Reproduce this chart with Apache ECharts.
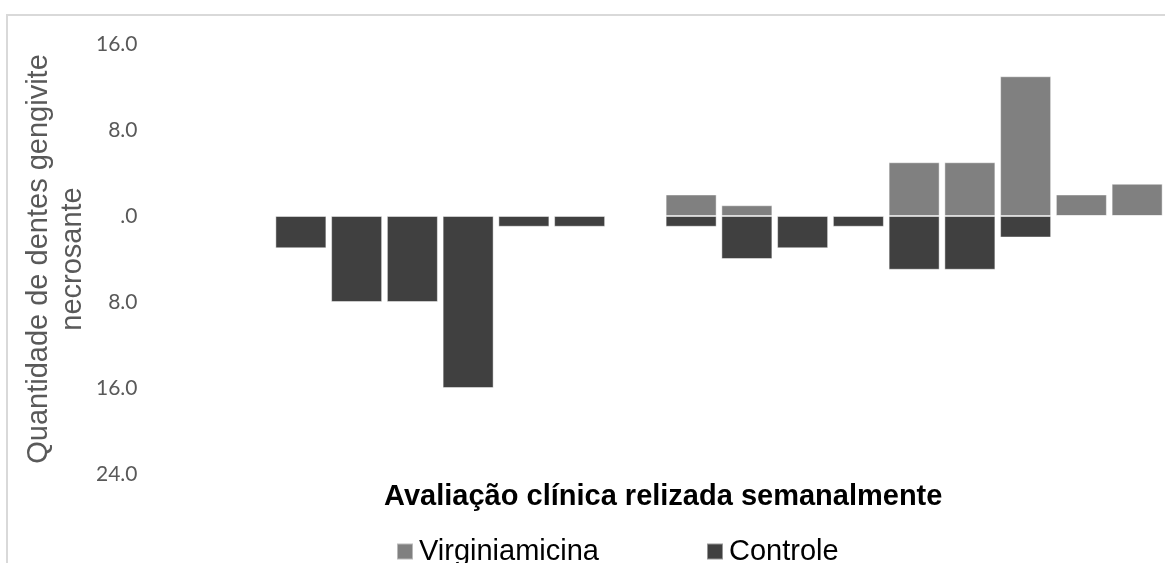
<!DOCTYPE html>
<html>
<head>
<meta charset="utf-8">
<script src="https://cdn.jsdelivr.net/npm/echarts@6/dist/echarts.min.js"></script>
<style>
  html, body { margin: 0; padding: 0; background: #ffffff; }
  #chart { width: 1165px; height: 563px; }
</style>
</head>
<body>
<div id="chart"></div>
<script>
// Weekly clinical evaluations (one slot per week)
const weeks = ['1','2','3','4','5','6','7','8','9','10','11','12','13','14','15','16','17','18'];
// Teeth with necrotizing gingivitis per week
const virginiamicina = [0, 0, 0, 0, 0, 0, 0, 0, 0, 2, 1, 0, 0, 5, 5, 13, 2, 3];
const controle       = [0, 0, 3, 8, 8, 16, 1, 1, 0, 1, 4, 3, 1, 5, 5, 2, 0, 0];
// Value axis: Virginiamicina grows upward, Controle downward
const yMin = -24, yMax = 16, yStep = 8;

const chart = echarts.init(document.getElementById('chart'));

const barBorder = { borderColor: 'rgba(255,255,255,0.45)', borderWidth: 1 };

chart.setOption({
  animation: false,
  backgroundColor: '#ffffff',
  graphic: [{
    type: 'rect',
    shape: { x: 7, y: 15, width: 1300, height: 700 },
    style: { fill: 'none', stroke: '#d9d9d9', lineWidth: 2 },
    silent: true
  }],
  legend: {
    left: 396,
    top: 537,
    padding: 0,
    itemWidth: 16,
    itemHeight: 16,
    itemGap: 107,
    icon: 'rect',
    textStyle: { fontFamily: 'Liberation Sans', fontSize: 29, color: '#000000', padding: [0, 0, 0, 1] },
    data: ['Virginiamicina', 'Controle']
  },
  grid: { left: 161.5, top: 44, width: 1008, height: 430, containLabel: false },
  xAxis: {
    type: 'category',
    data: weeks,
    axisLine: { show: false, onZero: false },
    axisTick: { show: false },
    axisLabel: { show: false },
    name: 'Avaliação clínica relizada semanalmente',
    nameLocation: 'middle',
    nameGap: 23,
    nameMoveOverlap: false,
    nameTextStyle: {
      fontFamily: 'Liberation Sans', fontSize: 29, fontWeight: 'bold',
      color: '#000000', verticalAlign: 'middle'
    }
  },
  yAxis: {
    type: 'value',
    min: yMin,
    max: yMax,
    interval: yStep,
    splitLine: { show: false },
    axisLine: { show: false },
    axisTick: { show: false },
    axisLabel: {
      margin: 24,
      fontFamily: 'Lato',
      fontSize: 21,
      color: '#595959',
      formatter: v => {
        const s = Math.abs(v).toFixed(1);
        return s.startsWith('0') ? s.slice(1) : s;
      }
    },
    name: 'Quantidade de dentes gengivite\nnecrosante',
    nameLocation: 'middle',
    nameRotate: 90,
    nameGap: 106,
    nameMoveOverlap: false,
    nameTextStyle: {
      fontFamily: 'Liberation Sans', fontSize: 29, color: '#595959',
      lineHeight: 34, align: 'center', verticalAlign: 'middle'
    }
  },
  series: [
    {
      name: 'Virginiamicina',
      type: 'bar',
      data: virginiamicina,
      barWidth: 51,
      barGap: '-100%',
      itemStyle: Object.assign({ color: '#808080' }, barBorder)
    },
    {
      name: 'Controle',
      type: 'bar',
      data: controle.map(v => -v),
      barWidth: 51,
      barGap: '-100%',
      itemStyle: Object.assign({ color: '#404040' }, barBorder)
    }
  ]
});
</script>
</body>
</html>
